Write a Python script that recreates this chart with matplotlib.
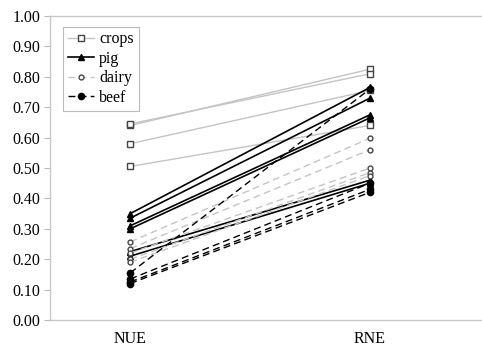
import numpy as np
import matplotlib
matplotlib.use('Agg')
import matplotlib.pyplot as plt

plt.rcParams['font.family'] = ['Liberation Serif', 'DejaVu Serif']

#------------------------------------------------------------------------------
# dati: ogni serie va da NUE a RNE

categories = ['NUE', 'RNE']

crops_nue = [0.640, 0.645, 0.580, 0.505]
crops_rne = [0.825, 0.810, 0.755, 0.640]

pig_nue = [0.350, 0.335, 0.310, 0.300, 0.225, 0.210]
pig_rne = [0.765, 0.730, 0.675, 0.665, 0.460, 0.450]

dairy_nue = [0.257, 0.235, 0.220, 0.200, 0.190]
dairy_rne = [0.598, 0.560, 0.500, 0.485, 0.475]

beef_nue = [0.155, 0.135, 0.125, 0.120]
beef_rne = [0.760, 0.450, 0.430, 0.420]

yticks = np.arange(0, 1.01, 0.1)

#------------------------------------------------------------------------------

fig = plt.figure(figsize=(4.82, 3.49), dpi=100)
ax = fig.add_axes([50 / 482, 1 - 320 / 349, 1 - 50 / 482 + 0.02, 304 / 349])

x = np.arange(len(categories))

styles = {
    'crops': dict(color='#c4c4c4', ls='-', lw=1.0, marker='s', ms=4.5,
                  mfc='white', mec='#444444', mew=1.0),
    'pig': dict(color='black', ls='-', lw=1.2, marker='^', ms=4.5,
                mfc='black', mec='black'),
    'dairy': dict(color='#c4c4c4', ls=(0, (5, 3)), lw=1.0, marker='o', ms=3.5,
                  mfc='white', mec='#444444', mew=1.0),
    'beef': dict(color='black', ls=(0, (5, 3)), lw=1.0, marker='o', ms=4.5,
                 mfc='black', mec='black'),
}

series = [('crops', crops_nue, crops_rne), ('pig', pig_nue, pig_rne),
          ('dairy', dairy_nue, dairy_rne), ('beef', beef_nue, beef_rne)]

for name, a, b in series:
    for i, (v0, v1) in enumerate(zip(a, b)):
        ax.plot(x, [v0, v1], label=name if i == 0 else None, **styles[name])

ax.set_xlim(-83 / 248, 1 + 101 / 248 + 0.1)
ax.set_ylim(0, 1.0)
ax.set_yticks(yticks)
ax.set_yticklabels([f'{v:.2f}' for v in yticks], fontsize=11.5)
ax.set_xticks(x)
ax.set_xticklabels(categories, fontsize=11.5)
ax.tick_params(axis='x', length=0, pad=8)
ax.tick_params(axis='y', length=4, color='#bbbbbb', pad=3)

for s in ['top', 'bottom', 'left']:
    ax.spines[s].set_color('#c8c8c8')
    ax.spines[s].set_linewidth(1.0)
ax.spines['right'].set_visible(False)

leg = ax.legend(loc='upper left', bbox_to_anchor=(0.03, 0.965), fontsize=11.5,
                handlelength=1.6, handletextpad=0.35, labelspacing=0.22,
                borderpad=0.3, borderaxespad=0, fancybox=False, framealpha=1)
leg.get_frame().set_edgecolor('#bbbbbb')
leg.get_frame().set_linewidth(0.8)

fig.savefig('out.png', dpi=100)
